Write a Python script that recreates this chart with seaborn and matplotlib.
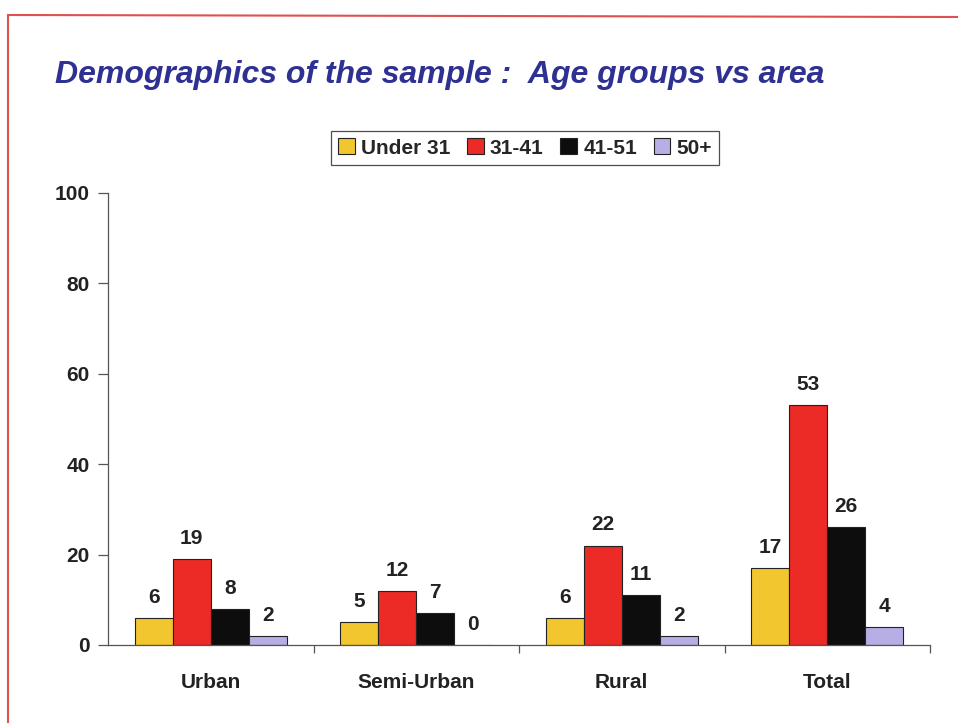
import pandas as pd
import matplotlib.pyplot as plt
import seaborn as sns
from matplotlib.lines import Line2D
from matplotlib.patches import Patch

# data
areas = ["Urban", "Semi-Urban", "Rural", "Total"]
age_groups = ["Under 31", "31-41", "41-51", "50+"]
under_31 = [6, 5, 6, 17]
age_31_41 = [19, 12, 22, 53]
age_41_51 = [8, 7, 11, 26]
age_50_plus = [2, 0, 2, 4]

colors = ["#f2c62e", "#ec2a26", "#0d0d0d", "#b7aee6"]

rows = []
for grp, vals in zip(age_groups, [under_31, age_31_41, age_41_51, age_50_plus]):
    for area, v in zip(areas, vals):
        rows.append({"area": area, "group": grp, "value": v})
df = pd.DataFrame(rows)

sns.set_style("white")
plt.rcParams["font.family"] = ["Liberation Sans", "DejaVu Sans"]

fig = plt.figure(figsize=(9.58, 7.23), dpi=100)
ax = fig.add_axes([108 / 958, 1 - 645 / 723, 822 / 958, 452 / 723])

sns.barplot(data=df, x="area", y="value", hue="group", order=areas,
            hue_order=age_groups, palette=colors, saturation=1, width=0.74, gap=0,
            edgecolor="#222222", linewidth=0.8, legend=False, ax=ax)

for cont in ax.containers:
    ax.bar_label(cont, padding=8, fontsize=15, fontweight="bold", color="#222222")

ax.set_xlim(-0.5, 3.5)
ax.set_ylim(0, 100)
ax.set_yticks([0, 20, 40, 60, 80, 100])
ax.set_xlabel("")
ax.set_ylabel("")
for s in ["top", "right"]:
    ax.spines[s].set_visible(False)
for s in ["left", "bottom"]:
    ax.spines[s].set_color("#555555")
    ax.spines[s].set_linewidth(0.9)

ax.tick_params(axis="y", direction="out", length=7, width=0.9, color="#555555",
               labelsize=15, pad=6, left=True)
ax.tick_params(axis="x", length=0, labelsize=15, pad=20)
ax.set_xticks([0.5, 1.5, 2.5, 3.5], minor=True)
ax.tick_params(axis="x", which="minor", direction="out", length=6, width=0.9,
               color="#555555", bottom=True)
for lab in ax.get_yticklabels() + ax.get_xticklabels():
    lab.set_fontweight("bold")
    lab.set_color("#222222")

handles = [Patch(facecolor=c, edgecolor="#222222", linewidth=0.8, label=g)
           for c, g in zip(colors, age_groups)]
leg = fig.legend(handles=handles, loc="center", bbox_to_anchor=(525 / 958, 1 - 148 / 723),
                 ncol=4, frameon=True, fancybox=False, handlelength=0.8, handleheight=0.8,
                 handletextpad=0.3, columnspacing=0.8, borderpad=0.35,
                 prop={"weight": "bold", "size": 15})
leg.get_frame().set_edgecolor("#222222")
leg.get_frame().set_linewidth(0.9)

fig.text(55 / 958, 1 - 75 / 723, "Demographics of the sample :  Age groups vs area",
         fontsize=23, fontweight="bold", fontstyle="italic", color="#2e3192",
         ha="left", va="center")

# red frame around the chart
fig.add_artist(Line2D([8 / 958, 8 / 958], [0, 1 - 15 / 723], color="#e05050", lw=1.5))
fig.add_artist(Line2D([8 / 958, 1], [1 - 15 / 723, 1 - 17 / 723], color="#e05050", lw=1.5))

fig.savefig("out.png", dpi=100)
